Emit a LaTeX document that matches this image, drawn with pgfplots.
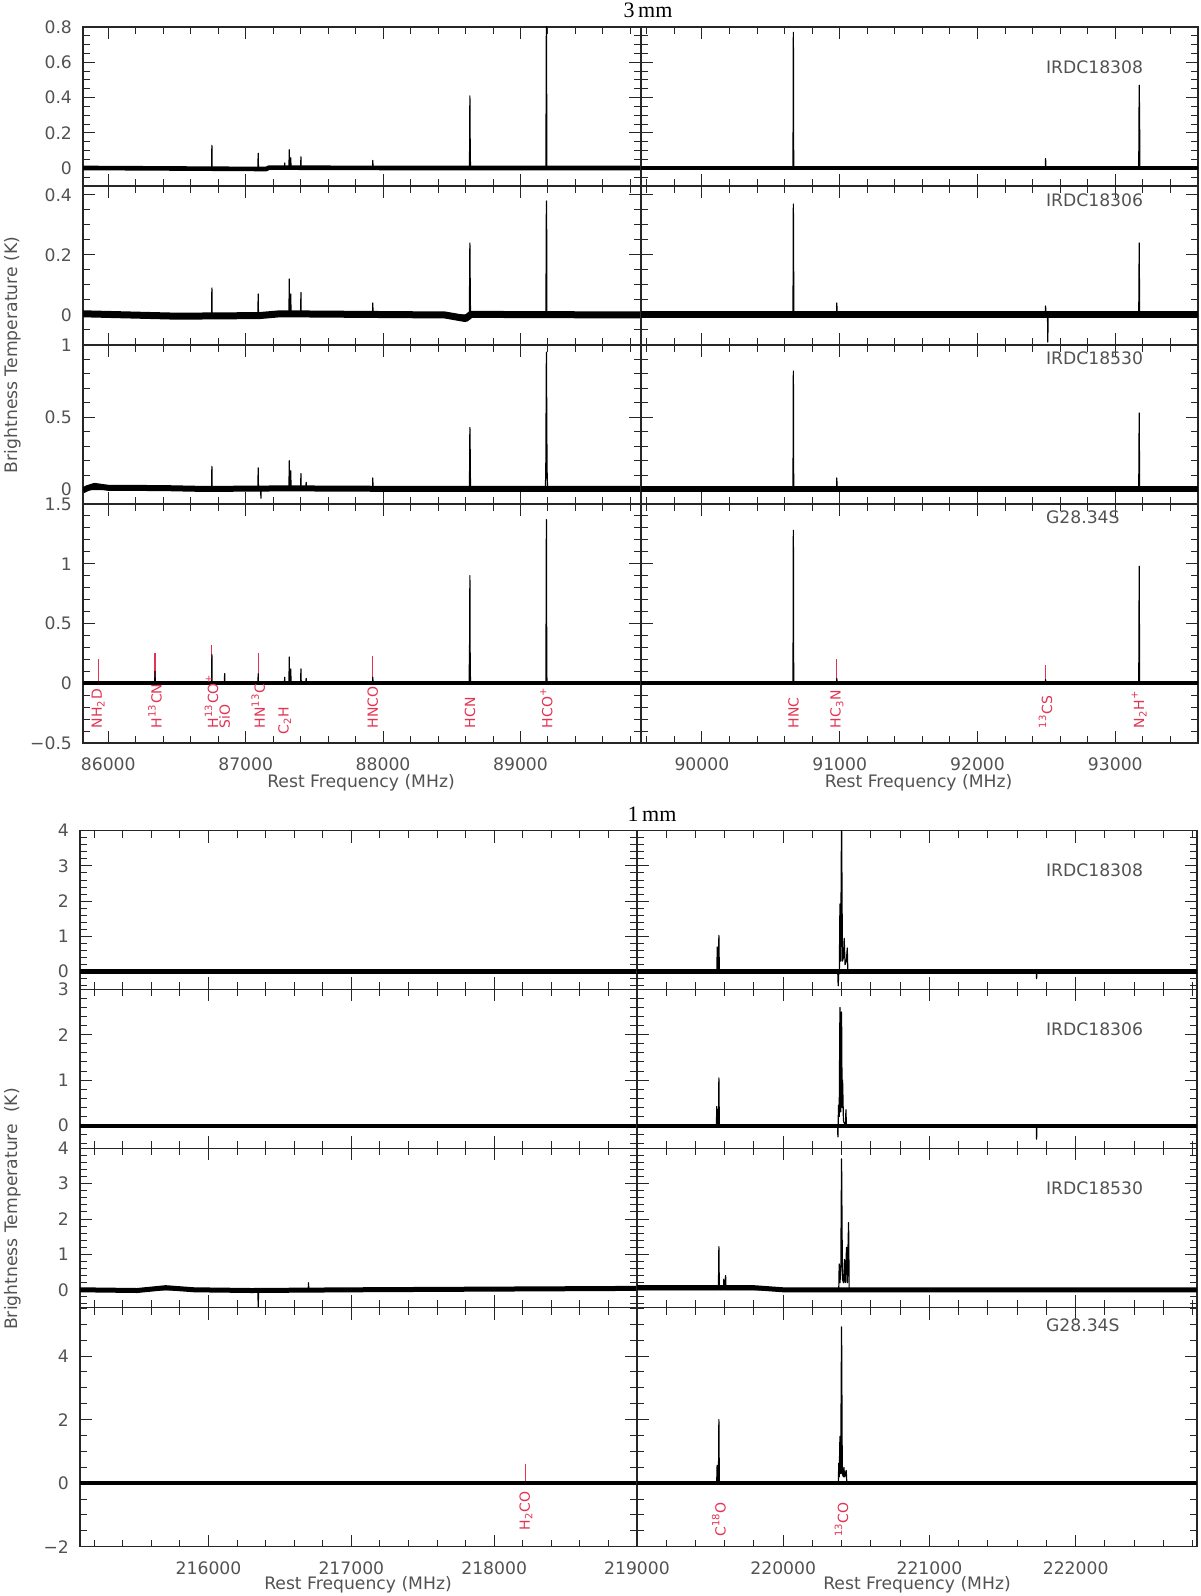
\documentclass[border=0pt]{standalone}
\usepackage{fontspec}
\setmainfont{DejaVu Sans}
\newfontfamily\serif{Liberation Serif}
\usepackage{pgfplots}
\pgfplotsset{compat=1.18}
\definecolor{lab}{rgb}{0.89,0.2,0.32}
\definecolor{txt}{gray}{0.32}
\newcommand{\tf}{\fontsize{8.6}{9}\selectfont}
\newcommand{\lf}{\fontsize{7}{8}\selectfont}
\pgfplotsset{
 panel/.style={scale only axis, anchor=south west,
   axis line style={black!85,line width=0.6pt},
   tick style={black!85,line width=0.5pt},
   tick align=inside, major tick length=6pt, minor tick length=3.5pt,
   scaled ticks=false, minor x tick num=4,
   tick label style={font=\tf, text=txt},
   xticklabel shift=4pt, yticklabel shift=2pt,
   xticklabels={}, yticklabels={}},
 L3/.style={panel, xmin=85816, xmax=89877, width=279pt, xtick={85000,86000,87000,88000,89000,90000}},
 R3/.style={panel, xmin=89558, xmax=93600, width=278.5pt, xtick={89000,90000,91000,92000,93000,94000}},
 L1/.style={panel, xmin=215100, xmax=219000, width=278.5pt, xtick={215000,216000,217000,218000,219000}},
 R1/.style={panel, xmin=219000, xmax=222830, width=280pt, xtick={219000,220000,221000,222000,223000}},
 band/.style={black, line width=#1, line join=round},
 spec/.style={black, line width=0.6pt, line join=round},
 redm/.style={lab, line width=0.6pt},
}
\tikzset{lbl/.style={lab, rotate=90, anchor=west, inner sep=0pt, font=\lf}}
\begin{document}
\begin{tikzpicture}
\useasboundingbox (0pt,0pt) rectangle (600pt,798pt);
% ================= 3 mm =================
% --- IRDC18308
\begin{axis}[L3, at={(41.5pt,705pt)}, height=79.5pt, ymin=-0.1, ymax=0.8,
  ytick={-0.2,0,0.2,0.4,0.6,0.8}, yticklabels={,0,0.2,0.4,0.6,0.8}, minor y tick num=3]
\addplot[band=2.3pt] coordinates {(85816,0.002) (86500,-0.001) (87150,-0.004) (87170,0.004) (88000,0.002) (89877,0.002)};
\addplot[spec] coordinates {(85816,0) (86752,0) (86754,0.13) (86756,0) (87089,0) (87091,0.085) (87093,0)
 (87282,0) (87284,0.03) (87286,0) (87315,0) (87317,0.105) (87319,0) (87326,0) (87328,0.06) (87330,0)
 (87400,0) (87402,0.065) (87404,0) (87923,0) (87925,0.045) (87927,0)
 (88628,0) (88630.4,0.15) (88631.6,0.41) (88633.9,0.12) (88636,0) (89185,0) (89188.5,0.85) (89192,0) (89877,0)};
\end{axis}
\begin{axis}[R3, at={(320.5pt,705pt)}, height=79.5pt, ymin=-0.1, ymax=0.8,
  ytick={-0.2,0,0.2,0.4,0.6,0.8}, minor y tick num=3]
\addplot[band=2.3pt] coordinates {(89558,0.002) (93600,0.002)};
\addplot[spec] coordinates {(89558,0) (90661,0) (90663.6,0.77) (90666,0) (92492,0) (92494,0.055) (92496,0)
 (93170,0) (93173.4,0.47) (93176.3,0.25) (93178,0) (93600,0)};
\end{axis}
% --- IRDC18306
\begin{axis}[L3, at={(41.5pt,625.5pt)}, height=79.5pt, ymin=-0.1, ymax=0.43,
  ytick={-0.2,0,0.2,0.4,0.6}, yticklabels={,0,0.2,0.4,}, minor y tick num=3]
\addplot[band=3.5pt] coordinates {(85816,0.004) (86500,-0.004) (87100,-0.002) (87250,0.004) (88450,0.0) (88600,-0.012) (88640,0.002) (89877,0.0)};
\addplot[spec] coordinates {(85816,0) (86752,0) (86754,0.09) (86756,0) (87089,0) (87091,0.07) (87093,0)
 (87315,0) (87317,0.12) (87319,0) (87326,0) (87328,0.07) (87330,0)
 (87400,0) (87402,0.075) (87404,0) (87923,0) (87925,0.04) (87927,0)
 (88628,0) (88630.4,0.15) (88631.6,0.24) (88633.9,0.1) (88636,0) (89185,0) (89188.5,0.38) (89190,0.33) (89192,0) (89877,0)};
\end{axis}
\begin{axis}[R3, at={(320.5pt,625.5pt)}, height=79.5pt, ymin=-0.1, ymax=0.43,
  ytick={-0.2,0,0.2,0.4,0.6}, minor y tick num=3]
\addplot[band=3.5pt] coordinates {(89558,0.0) (93600,0.0)};
\addplot[spec] coordinates {(89558,0) (90661,0) (90663.6,0.37) (90665,0.22) (90667,0) (90977,0) (90979,0.04) (90981,0)
 (92492,0) (92494,0.03) (92496,0) (92508,0) (92510,-0.09) (92512,0)
 (93170,0) (93171.6,0.1) (93173.4,0.24) (93176,0) (93600,0)};
\end{axis}
% --- IRDC18530
\begin{axis}[L3, at={(41.5pt,546pt)}, height=79.5pt, ymin=-0.1, ymax=1,
  ytick={-0.5,0,0.5,1}, yticklabels={,0,0.5,1}, minor y tick num=4]
\addplot[band=3pt] coordinates {(85816,-0.005) (85850,0.01) (85900,0.025) (86000,0.012) (86400,0.01) (86700,0.004) (87300,0.008) (88000,0.005) (89877,0.005)};
\addplot[spec] coordinates {(85816,0) (86752,0) (86754,0.16) (86756,0) (87089,0) (87091,0.15) (87093,0) (87109,0) (87111,-0.06) (87113,0)
 (87315,0) (87317,0.2) (87319,0) (87326,0) (87328,0.13) (87330,0)
 (87400,0) (87402,0.11) (87404,0) (87438,0) (87440,0.05) (87442,0) (87923,0) (87925,0.08) (87927,0)
 (88628,0) (88630.4,0.2) (88631.6,0.43) (88633.9,0.25) (88636,0)
 (89180,0) (89184,0.1) (89188.5,0.95) (89193,0.15) (89197,0) (89877,0)};
\end{axis}
\begin{axis}[R3, at={(320.5pt,546pt)}, height=79.5pt, ymin=-0.1, ymax=1,
  ytick={-0.5,0,0.5,1}, minor y tick num=4]
\addplot[band=3pt] coordinates {(89558,0.004) (93600,0.004)};
\addplot[spec] coordinates {(89558,0) (90661,0) (90663.6,0.82) (90666,0) (90977,0) (90979,0.08) (90981,0)
 (93170,0) (93171.6,0.25) (93173.4,0.53) (93176,0) (93600,0)};
\end{axis}
% --- G28.34S
\begin{axis}[L3, at={(41.5pt,426.5pt)}, height=119.5pt, ymin=-0.5, ymax=1.5,
  ytick={-0.5,0,0.5,1,1.5}, yticklabels={−0.5,0,0.5,1,1.5}, minor y tick num=4,
  xticklabels={,86000,87000,88000,89000,}]
\addplot[redm] coordinates {(85926,0) (85926,0.2)};
\addplot[redm] coordinates {(86340,0) (86340,0.25)};
\addplot[redm] coordinates {(86754,0) (86754,0.32)};
\addplot[redm] coordinates {(87091,0) (87091,0.25)};
\addplot[redm] coordinates {(87925,0) (87925,0.23)};
\addplot[redm] coordinates {(88631.6,0) (88631.6,0.25)};
\addplot[redm] coordinates {(89188.5,0) (89188.5,0.25)};
\addplot[band=2pt] coordinates {(85816,0.0) (89877,0.0)};
\addplot[spec] coordinates {(85816,0) (86338,0) (86340,0.1) (86342,0) (86752,0) (86754,0.24) (86756,0) (86845,0) (86847,0.08) (86849,0)
 (87089,0) (87091,0.08) (87093,0) (87282,0) (87284,0.05) (87286,0)
 (87315,0) (87317,0.22) (87319,0) (87326,0) (87328,0.12) (87330,0)
 (87400,0) (87402,0.12) (87404,0) (87438,0) (87440,0.04) (87442,0) (87923,0) (87925,0.05) (87927,0)
 (88626,0) (88630.4,0.4) (88631.6,0.9) (88634,0.1) (88637,0)
 (89185,0) (89188.5,1.37) (89191,0.1) (89193,0) (89877,0)};
\node[lbl] at (axis cs:85926,-0.38) {NH\textsubscript{2}D};
\node[lbl] at (axis cs:86340,-0.38) {H\textsuperscript{13}CN};
\node[lbl] at (axis cs:86752,-0.38) {H\textsuperscript{13}CO\textsuperscript{+}};
\node[lbl] at (axis cs:86847,-0.38) {SiO};
\node[lbl] at (axis cs:87091,-0.38) {HN\textsuperscript{13}C};
\node[lbl] at (axis cs:87284,-0.43) {C\textsubscript{2}H};
\node[lbl] at (axis cs:87925,-0.38) {HNCO};
\node[lbl] at (axis cs:88632,-0.38) {HCN};
\node[lbl] at (axis cs:89188,-0.38) {HCO\textsuperscript{+}};
\end{axis}
\begin{axis}[R3, at={(320.5pt,426.5pt)}, height=119.5pt, ymin=-0.5, ymax=1.5,
  ytick={-0.5,0,0.5,1,1.5}, minor y tick num=4,
  xticklabels={,90000,91000,92000,93000,}]
\addplot[redm] coordinates {(90663.6,0) (90663.6,0.2)};
\addplot[redm] coordinates {(90979,0) (90979,0.2)};
\addplot[redm] coordinates {(92494,0) (92494,0.15)};
\addplot[redm] coordinates {(93173.4,0) (93173.4,0.2)};
\addplot[band=2pt] coordinates {(89558,0.0) (93600,0.0)};
\addplot[spec] coordinates {(89558,0) (90661,0) (90663.6,1.28) (90666,0) (90977,0) (90979,0.04) (90981,0)
 (92492,0) (92494,0.03) (92496,0) (93170,0) (93171.6,0.4) (93173.4,0.98) (93176,0) (93600,0)};
\node[lbl] at (axis cs:90664,-0.38) {HNC};
\node[lbl] at (axis cs:90979,-0.38) {HC\textsubscript{3}N};
\node[lbl] at (axis cs:92494,-0.38) {\textsuperscript{13}CS};
\node[lbl] at (axis cs:93173,-0.38) {N\textsubscript{2}H\textsuperscript{+}};
\end{axis}
% ================= 1 mm =================
% --- IRDC18308
\begin{axis}[L1, at={(40pt,303.35pt)}, height=79.3pt, ymin=-0.5, ymax=4,
  ytick={-1,0,1,2,3,4}, yticklabels={,0,1,2,3,4}, minor y tick num=4]
\addplot[band=2.5pt] coordinates {(215100,0.0) (219000,0.0)};
\end{axis}
\begin{axis}[R1, at={(318.5pt,303.35pt)}, height=79.3pt, ymin=-0.5, ymax=4,
  ytick={-1,0,1,2,3,4}, minor y tick num=4]
\addplot[band=2.5pt] coordinates {(219000,0.0) (222830,0.0)};
\addplot[spec] coordinates {(219000,0) (219546,0) (219549,0.7) (219552,0) (219557,0) (219560,1.03) (219563,0)
 (220373,0) (220376,-0.4) (220380,0) (220384,0) (220388,1.92) (220393,0.3) (220399,4.4) (220405,0.3) (220412,0.4) (220417,0.94) (220423,0.2) (220432,0.3) (220438,0.67) (220442,0)
 (221731,0) (221733,-0.2) (221735,0) (222830,0)};
\end{axis}
% --- IRDC18306
\begin{axis}[L1, at={(40pt,223.85pt)}, height=79.5pt, ymin=-0.5, ymax=3,
  ytick={-1,0,1,2,3}, yticklabels={,0,1,2,3}, minor y tick num=4]
\addplot[band=2pt] coordinates {(215100,0.0) (219000,0.0)};
\end{axis}
\begin{axis}[R1, at={(318.5pt,223.85pt)}, height=79.5pt, ymin=-0.5, ymax=3,
  ytick={-1,0,1,2,3}, minor y tick num=4]
\addplot[band=2pt] coordinates {(219000,0.0) (222830,0.0)};
\addplot[spec] coordinates {(219000,0) (219543,0) (219546,0.42) (219550,0) (219557,0) (219560,1.05) (219563,0)
 (220372,0) (220374,-0.25) (220376,0) (220378,0.45) (220383,0.2) (220388,2.6) (220393,0.3) (220399,2.5) (220403,0.4) (220406,1.0) (220412,0.1) (220426,0) (220429,0.35) (220432,0)
 (221731,0) (221733,-0.3) (221735,0) (222830,0)};
\end{axis}
% --- IRDC18530
\begin{axis}[L1, at={(40pt,144.25pt)}, height=79.6pt, ymin=-0.5, ymax=4,
  ytick={-1,0,1,2,3,4}, yticklabels={,0,1,2,3,4}, minor y tick num=4]
\addplot[band=2.5pt] coordinates {(215100,0.0) (215500,-0.02) (215700,0.06) (215900,0.0) (216300,-0.02) (217000,0.0) (219000,0.04)};
\addplot[spec] coordinates {(215100,0) (216346,0) (216348,-0.6) (216350,0) (216698,0) (216700,0.2) (216702,0) (219000,0)};
\end{axis}
\begin{axis}[R1, at={(318.5pt,144.25pt)}, height=79.6pt, ymin=-0.5, ymax=4,
  ytick={-1,0,1,2,3,4}, minor y tick num=4]
\addplot[band=2.5pt] coordinates {(219000,0.06) (219800,0.06) (220000,0.0) (222830,0.0)};
\addplot[spec] coordinates {(219000,0) (219557,0) (219560,1.22) (219563,0) (219591,0) (219594,0.3) (219597,0) (219603,0) (219606,0.4) (219609,0)
 (220380,0) (220383,0.73) (220388,0.2) (220394,0.6) (220399,3.7) (220405,0.3) (220413,0.2) (220419,0.86) (220425,0.2) (220433,1.2) (220438,0.2) (220447,1.9) (220451,0) (222830,0)};
\end{axis}
% --- G28.34S
\begin{axis}[L1, at={(40pt,24.65pt)}, height=119.6pt, ymin=-2, ymax=5.53,
  ytick={-2,0,2,4,6}, yticklabels={−2,0,2,4,}, minor y tick num=3,
  xticklabels={,216000,217000,218000,}]
\addplot[redm] coordinates {(218222,0) (218222,0.6)};
\addplot[band=2pt] coordinates {(215100,0.0) (219000,0.0)};
\node[lbl] at (axis cs:218222,-1.5) {H\textsubscript{2}CO};
\end{axis}
\begin{axis}[R1, at={(318.5pt,24.65pt)}, height=119.6pt, ymin=-2, ymax=5.53,
  ytick={-2,0,2,4,6}, minor y tick num=3,
  xticklabels={219000,220000,221000,222000,}]
\addplot[band=2pt] coordinates {(219000,0.0) (222830,0.0)};
\addplot[spec] coordinates {(219000,0) (219545,0) (219548,0.56) (219551,0) (219557,0) (219560,2.0) (219563,0)
 (220377,0) (220380,0.63) (220383,0.2) (220388,1.47) (220393,0.3) (220399,4.92) (220404,0.3) (220412,0.2) (220415,0.5) (220420,0.2) (220431,0.4) (220435,0)
 (222830,0)};
\node[lbl] at (axis cs:219560,-1.7) {C\textsuperscript{18}O};
\node[lbl] at (axis cs:220399,-1.7) {\textsuperscript{13}CO};
\end{axis}
% ================= labels =================
\node[font=\serif\fontsize{11}{12}\selectfont] at (324pt,793pt) {3\,mm};
\node[font=\serif\fontsize{11}{12}\selectfont] at (326pt,391pt) {1\,mm};
\node[rotate=90, font=\tf, text=txt] at (6.25pt,620.5pt) {Brightness Temperature (K)};
\node[rotate=90, font=\tf, text=txt] at (6.25pt,193.5pt) {Brightness Temperature\ \ (K)};
\node[font=\tf, text=txt] at (180.5pt,406.5pt) {Rest Frequency (MHz)};
\node[font=\tf, text=txt] at (459.3pt,406.5pt) {Rest Frequency (MHz)};
\node[font=\tf, text=txt] at (179pt,5.5pt) {Rest Frequency (MHz)};
\node[font=\tf, text=txt] at (458.5pt,5.5pt) {Rest Frequency (MHz)};
\node[font=\tf, text=txt, anchor=west] at (519.5pt,764.5pt) {IRDC18308};
\node[font=\tf, text=txt, anchor=west] at (519.5pt,697.75pt) {IRDC18306};
\node[font=\tf, text=txt, anchor=west] at (519.5pt,619pt) {IRDC18530};
\node[font=\tf, text=txt, anchor=west] at (519.5pt,539.5pt) {G28.34S};
\node[font=\tf, text=txt, anchor=west] at (519.5pt,363pt) {IRDC18308};
\node[font=\tf, text=txt, anchor=west] at (519.5pt,283.5pt) {IRDC18306};
\node[font=\tf, text=txt, anchor=west] at (519.5pt,204pt) {IRDC18530};
\node[font=\tf, text=txt, anchor=west] at (519.5pt,135.5pt) {G28.34S};
\end{tikzpicture}
\end{document}
